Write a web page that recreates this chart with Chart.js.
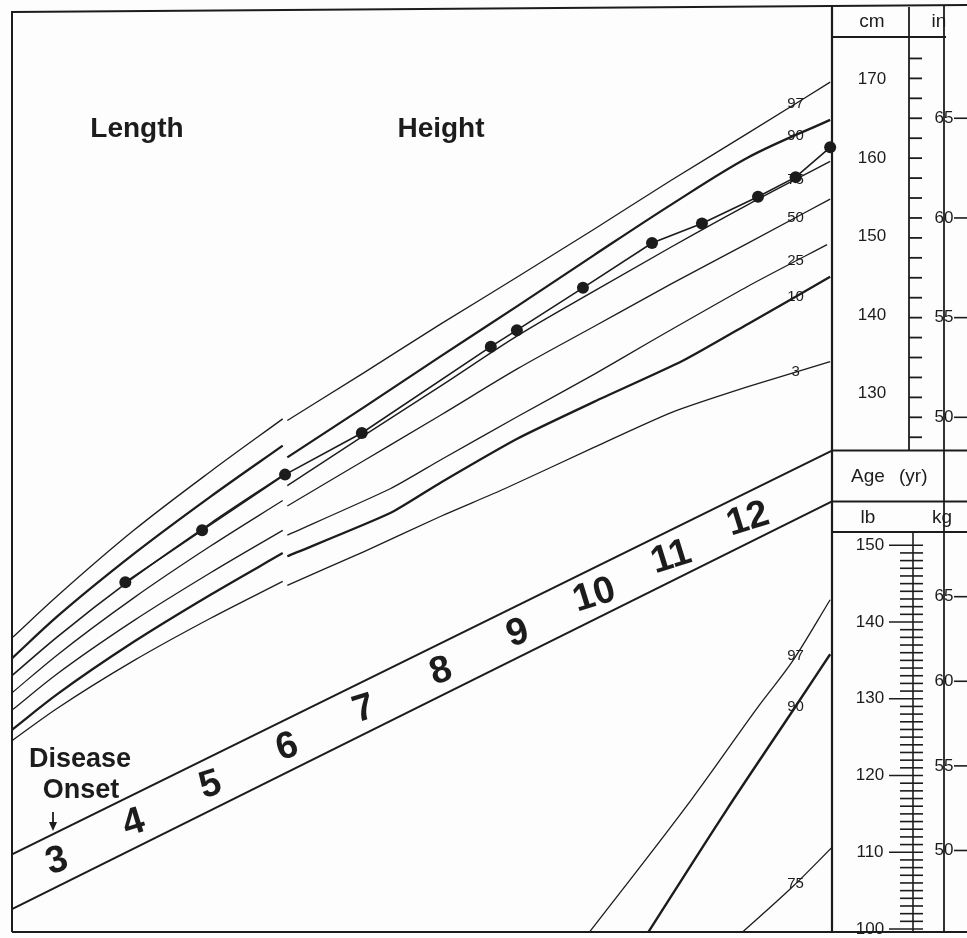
<!DOCTYPE html>
<html>
<head>
<meta charset="utf-8">
<title>Length / Height growth chart</title>
<script src="https://cdn.jsdelivr.net/npm/chart.js@4.4.1/dist/chart.umd.min.js"></script>
<style>
  html, body { margin: 0; padding: 0; background: #fff; }
  canvas { display: block; }
</style>
</head>
<body>
<canvas id="growthChart" width="967" height="938"></canvas>
<script>
// Ink colour of the scanned chart
const INK = '#1c1c1c';
const FONT = '"Liberation Sans", Arial, Helvetica, sans-serif';

// Age axis limits (years) of the plotting field
const AGE_MIN = 2.414;
const AGE_MAX = 13.094;

// Ages (years) at which the curves were read
const lengthAges = [2.414, 3, 4, 5, 5.94];
const heightAges = [6, 7, 8, 9, 10, 11, 12, 13.07];
const height25Ages = [6, 7.34, 8, 9, 10, 10.72, 12, 13.03];
const height10Ages = [6, 7.34, 8, 9, 10, 11.15, 12, 13.07];
const height3Ages = [6, 7, 8, 8.83, 10, 11, 12, 13.07];

// Length percentiles (cm), left part of the chart
const length97 = [98.9, 104.2, 112.6, 120.1, 126.8];
const length90 = [96.3, 101.6, 109.6, 116.9, 123.4];
const length75 = [94.1, 99.0, 106.6, 113.5, 119.6];
const length50 = [91.9, 96.7, 104.0, 110.6, 116.4];
const length25 = [89.7, 94.3, 101.1, 107.2, 112.6];
const length10 = [87.2, 91.7, 98.4, 104.4, 109.7];
const length3 = [85.8, 89.9, 96.0, 101.4, 106.1];

// Height percentiles (cm), right part of the chart
const height97 = [126.6, 132.7, 138.9, 144.9, 151.0, 157.2, 163.2, 169.7];
const height90 = [121.9, 128.3, 134.8, 141.2, 147.7, 154.1, 160.1, 164.9];
const height75 = [118.3, 124.7, 131.0, 137.4, 143.1, 148.7, 154.1, 159.6];
const height50 = [115.7, 121.5, 127.3, 133.2, 138.6, 144.0, 149.2, 154.8];
const height25 = [112.0, 117.9, 121.6, 127.1, 132.5, 136.6, 143.7, 149.0];
const height10 = [109.3, 114.8, 118.7, 124.3, 129.0, 134.2, 138.9, 144.9];
const height3 = [105.6, 109.9, 114.4, 117.9, 123.2, 127.6, 130.9, 134.1];

// Weight percentiles (lb), lower right corner
const weight97Ages = [9.85, 11.28, 12.15, 12.58, 13.07];
const weight97 = [98.5, 117.1, 129.2, 134.9, 142.9];
const weight90Ages = [10.6, 11.72, 12.58, 13.07];
const weight90 = [98.0, 115.5, 128.4, 135.8];
const weight75Ages = [11.85, 12.58, 13.09];
const weight75 = [98.9, 105.5, 110.6];

// Patient's measured heights
const patientAges = [3.89, 4.89, 5.97, 6.97, 8.65, 8.99, 9.85, 10.75, 11.40, 12.13, 12.62, 13.07];
const patientHeight = [106.0, 112.6, 119.7, 125.0, 136.0, 138.1, 143.5, 149.2, 151.7, 155.1, 157.6, 161.4];

// Age band (two straight edges, in cm units of the height scale)
const bandAges = [AGE_MIN, AGE_MAX];
const bandTop = [71.33, 122.76];
const bandBottom = [64.35, 116.29];
const ageLabels = [3, 4, 5, 6, 7, 8, 9, 10, 11, 12];

// Right hand scales
const cmTicks = [130, 140, 150, 160, 170];
const inLabels = [50, 55, 60, 65];
const inRange = [49, 69];
const lbTicks = [100, 110, 120, 130, 140, 150];
const lbRange = [100, 150];
const kgLabels = [50, 55, 60, 65];

// Percentile names written near the ends of the curves
const labelAge = 12.62;

function curve(label, ages, values, width, axis, tension) {
    const ds = {
        label: label,
        data: ages.map((a, i) => ({ x: a, y: values[i] })),
        yAxisID: axis || 'cm',
        borderColor: INK,
        borderWidth: width,
        pointRadius: 0,
        fill: false
    };
    if (tension === undefined) ds.cubicInterpolationMode = 'monotone';
    else ds.tension = tension;
    return ds;
}

// linear lookup on a read curve, only used to place its label
function valueAt(ages, values, age) {
    for (let i = 1; i < ages.length; i++) {
        if (age <= ages[i]) {
            const t = (age - ages[i - 1]) / (ages[i] - ages[i - 1]);
            return values[i - 1] + t * (values[i] - values[i - 1]);
        }
    }
    return values[values.length - 1];
}

const curveLabels = [
    { text: '97', ages: heightAges, values: height97, axis: 'cm' },
    { text: '90', ages: heightAges, values: height90, axis: 'cm' },
    { text: '75', ages: heightAges, values: height75, axis: 'cm' },
    { text: '50', ages: heightAges, values: height50, axis: 'cm' },
    { text: '25', ages: height25Ages, values: height25, axis: 'cm' },
    { text: '10', ages: height10Ages, values: height10, axis: 'cm' },
    { text: '3', ages: height3Ages, values: height3, axis: 'cm' },
    { text: '97', ages: weight97Ages, values: weight97, axis: 'lb' },
    { text: '90', ages: weight90Ages, values: weight90, axis: 'lb' },
    { text: '75', ages: weight75Ages, values: weight75, axis: 'lb' }
];

function seg(ctx, x1, y1, x2, y2, w) {
    ctx.lineWidth = w || 1.5;
    ctx.beginPath();
    ctx.moveTo(x1, y1);
    ctx.lineTo(x2, y2);
    ctx.stroke();
}

const chartDecor = {
    id: 'chartDecor',
    beforeDraw(chart) {
        const ctx = chart.ctx;
        ctx.save();
        ctx.fillStyle = '#fdfdfd';
        ctx.fillRect(0, 0, chart.width, chart.height);
        ctx.restore();
    },
    afterDatasetsDraw(chart) {
        const { ctx, chartArea: area, scales } = chart;
        const x = scales.x, cm = scales.cm, lb = scales.lb;
        const right = chart.width;
        const rulerX = 909, inX = 944, lbRulerX = 913, cmMid = 872, lbMid = 870;
        const headBottom = 37, lbHeadBottom = 532;
        const ageTop = cm.getPixelForValue(bandTop[1]);
        const ageBottom = cm.getPixelForValue(bandBottom[1]);

        ctx.save();
        ctx.strokeStyle = INK;
        ctx.fillStyle = INK;

        // frame of the plotting field and the scale panel
        seg(ctx, area.left, 12, right, 5, 2);
        seg(ctx, area.left, 11, area.left, area.bottom, 2);
        seg(ctx, area.left, area.bottom, right, area.bottom, 2);
        seg(ctx, area.right, 7, area.right, area.bottom, 2.2);
        seg(ctx, rulerX, 7, rulerX, ageTop, 1.8);
        seg(ctx, inX, 6, inX, area.bottom, 1.8);
        seg(ctx, area.right, headBottom, inX + 2, headBottom, 2);
        seg(ctx, area.right, ageTop, right, ageTop, 2);
        seg(ctx, area.right, ageBottom, right, ageBottom, 2);
        seg(ctx, area.right, lbHeadBottom, right, lbHeadBottom, 1.8);

        // headers
        ctx.textBaseline = 'middle';
        ctx.textAlign = 'center';
        ctx.font = '19px ' + FONT;
        ctx.fillText('cm', cmMid, 22);
        ctx.fillText('in', 939, 22);
        ctx.fillText('lb', 868, 518);
        ctx.fillText('kg', 942, 518);
        ctx.textAlign = 'left';
        ctx.fillText('Age', 851, 477);
        ctx.fillText('(yr)', 899, 477);

        // cm labels
        ctx.textAlign = 'center';
        ctx.font = '17px ' + FONT;
        cmTicks.forEach(v => ctx.fillText(String(v), cmMid, cm.getPixelForValue(v)));

        // inch ticks on the cm/in ruler
        for (let i = inRange[0]; i <= inRange[1]; i++) {
            const y = cm.getPixelForValue(i * 2.54);
            if (y > headBottom + 2 && y < ageTop - 2) seg(ctx, rulerX, y, rulerX + 13, y, 1.8);
        }
        inLabels.forEach(v => {
            const y = cm.getPixelForValue(v * 2.54);
            ctx.fillText(String(v), inX, y);
            seg(ctx, inX + 10, y, right, y, 1.6);
        });

        // pound ruler
        seg(ctx, lbRulerX, lbHeadBottom, lbRulerX, area.bottom, 1.6);
        for (let v = lbRange[0]; v <= lbRange[1]; v++) {
            const y = lb.getPixelForValue(v);
            const major = v % 10 === 0;
            seg(ctx, major ? lbRulerX - 24 : lbRulerX - 13, y, lbRulerX + 10, y, 1.6);
        }
        lbTicks.forEach(v => ctx.fillText(String(v), lbMid, lb.getPixelForValue(v)));
        kgLabels.forEach(v => {
            const y = lb.getPixelForValue(v * 2.20462);
            ctx.fillText(String(v), inX, y);
            seg(ctx, inX + 10, y, right, y, 1.6);
        });

        // percentile names
        ctx.font = '15px ' + FONT;
        const lx = x.getPixelForValue(labelAge);
        curveLabels.forEach(l => {
            const axis = l.axis === 'lb' ? lb : cm;
            const y = axis.getPixelForValue(valueAt(l.ages, l.values, labelAge));
            ctx.fillText(l.text, lx, y);
        });

        // titles
        ctx.font = 'bold 28px ' + FONT;
        ctx.textBaseline = 'alphabetic';
        ctx.fillText('Length', 137, 137);
        ctx.fillText('Height', 441, 137);
        ctx.font = 'bold 27px ' + FONT;
        ctx.fillText('Disease', 80, 767);
        ctx.fillText('Onset', 81, 798);

        // onset arrow
        seg(ctx, 53, 812, 53, 824, 1.8);
        ctx.beginPath();
        ctx.moveTo(49, 822);
        ctx.lineTo(57, 822);
        ctx.lineTo(53, 831);
        ctx.closePath();
        ctx.fill();

        // age numbers inside the band
        ctx.font = 'bold 38px ' + FONT;
        ctx.textBaseline = 'middle';
        ageLabels.forEach(a => {
            const px = x.getPixelForValue(a);
            const top = valueAt(bandAges, bandTop, a);
            const bottom = valueAt(bandAges, bandBottom, a);
            const py = (cm.getPixelForValue(top) + cm.getPixelForValue(bottom)) / 2 + 2;
            ctx.save();
            ctx.translate(px, py);
            ctx.rotate(-0.3);
            ctx.fillText(String(a), 0, 0);
            ctx.restore();
        });

        ctx.restore();
    }
};

const datasets = [
    curve('Age band top', bandAges, bandTop, 2, 'cm', 0),
    curve('Age band bottom', bandAges, bandBottom, 2, 'cm', 0),
    curve('L97', lengthAges, length97, 1.3),
    curve('L90', lengthAges, length90, 2.3),
    curve('L75', lengthAges, length75, 1.6),
    curve('L50', lengthAges, length50, 1.3),
    curve('L25', lengthAges, length25, 1.3),
    curve('L10', lengthAges, length10, 2.3),
    curve('L3', lengthAges, length3, 1.3),
    curve('H97', heightAges, height97, 1.3),
    curve('H90', heightAges, height90, 2.3),
    curve('H75', heightAges, height75, 1.4),
    curve('H50', heightAges, height50, 1.3),
    curve('H25', height25Ages, height25, 1.3, 'cm', 0.2),
    curve('H10', height10Ages, height10, 2.3, 'cm', 0.2),
    curve('H3', height3Ages, height3, 1.3, 'cm', 0.2),
    curve('W97', weight97Ages, weight97, 1.3, 'lb'),
    curve('W90', weight90Ages, weight90, 2.4, 'lb'),
    curve('W75', weight75Ages, weight75, 1.3, 'lb'),
    {
        label: 'Patient',
        data: patientAges.map((a, i) => ({ x: a, y: patientHeight[i] })),
        yAxisID: 'cm',
        borderColor: INK,
        borderWidth: 1.6,
        tension: 0,
        pointRadius: 6,
        pointBackgroundColor: INK,
        pointBorderWidth: 0,
        clip: false,
        fill: false
    }
];

const ctx = document.getElementById('growthChart').getContext('2d');
new Chart(ctx, {
    type: 'line',
    data: { datasets: datasets },
    options: {
        responsive: false,
        animation: false,
        events: [],
        layout: { padding: { left: 12, right: 135, top: 9, bottom: 3 } },
        scales: {
            x: { type: 'linear', min: AGE_MIN, max: AGE_MAX, display: false },
            cm: { type: 'linear', position: 'left', min: 61.43, max: 179.02, display: false },
            lb: { type: 'linear', position: 'right', min: 99.61, max: 219.87, display: false }
        },
        plugins: {
            legend: { display: false },
            tooltip: { enabled: false }
        }
    },
    plugins: [chartDecor]
});
</script>
</body>
</html>
